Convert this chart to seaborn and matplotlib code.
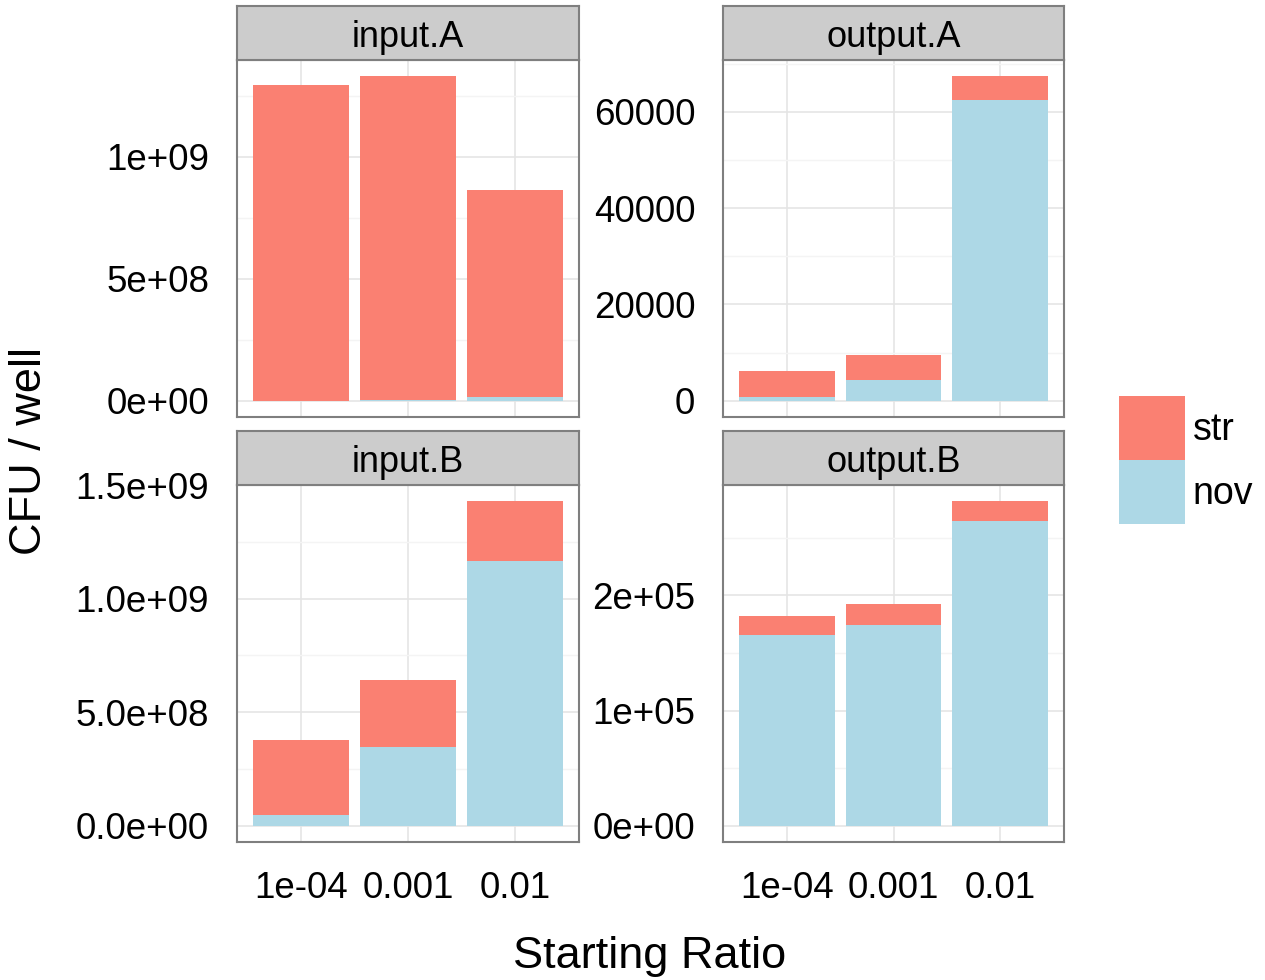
import numpy as np
import pandas as pd
import matplotlib
matplotlib.use("Agg")
import matplotlib.pyplot as plt
from matplotlib.patches import Patch
import seaborn as sns

# ---- data -------------------------------------------------------------
ratios = ["1e-04", "0.001", "0.01"]
panels = ["input.A", "output.A", "input.B", "output.B"]
strains = ["str", "nov"]

nov_input_A = [1.0e6, 2.0e6, 1.6e7]
str_input_A = [1.293e9, 1.327e9, 0.848e9]

nov_output_A = [830, 4280, 62420]
str_output_A = [5440, 5170, 4960]

nov_input_B = [4.8e7, 3.46e8, 1.164e9]
str_input_B = [3.30e8, 2.97e8, 2.64e8]

nov_output_B = [1.654e5, 1.746e5, 2.643e5]
str_output_B = [1.64e4, 1.82e4, 1.73e4]

yticks_input_A = [0, 5e8, 1e9]
ylabels_input_A = ["0e+00", "5e+08", "1e+09"]
yticks_output_A = [0, 20000, 40000, 60000]
ylabels_output_A = ["0", "20000", "40000", "60000"]
yticks_input_B = [0, 5e8, 1e9, 1.5e9]
ylabels_input_B = ["0.0e+00", "5.0e+08", "1.0e+09", "1.5e+09"]
yticks_output_B = [0, 1e5, 2e5]
ylabels_output_B = ["0e+00", "1e+05", "2e+05"]

x_title = "Starting Ratio"
y_title = "CFU / well"

# ---- long-form table ---------------------------------------------------
series = {
    "input.A": (nov_input_A, str_input_A, yticks_input_A, ylabels_input_A),
    "output.A": (nov_output_A, str_output_A, yticks_output_A, ylabels_output_A),
    "input.B": (nov_input_B, str_input_B, yticks_input_B, ylabels_input_B),
    "output.B": (nov_output_B, str_output_B, yticks_output_B, ylabels_output_B),
}
rows = []
for p in panels:
    nov, st = series[p][0], series[p][1]
    for r, n, s in zip(ratios, nov, st):
        rows.append({"panel": p, "ratio": r, "nov": n, "str": s, "total": n + s})
df = pd.DataFrame(rows)

# ---- style -------------------------------------------------------------
sns.set_style("white")
plt.rcParams["font.family"] = ["Liberation Sans", "DejaVu Sans"]
plt.rcParams["text.color"] = "black"
plt.rcParams["xtick.color"] = "black"
plt.rcParams["ytick.color"] = "black"

SALMON = "#FA8072"
LIGHTBLUE = "#ADD8E6"
BORDER = "#7F7F7F"
STRIP = "#CCCCCC"
GRID_MAJOR = "#E5E5E5"
GRID_MINOR = "#F4F4F4"
TICK_FS = 26.5
STRIP_FS = 26
TITLE_FS = 32.5
LEGEND_FS = 27

W, H = 1265, 980
fig = plt.figure(figsize=(W / 100, H / 100), dpi=100)

# panel boxes in pixels: left, top, right, bottom
boxes = {
    "input.A": (237, 60, 579, 417),
    "output.A": (723, 60, 1064, 417),
    "input.B": (237, 485, 579, 842),
    "output.B": (723, 485, 1064, 842),
}
STRIP_H = 54


def frac(l, t, r, b):
    return [l / W, 1 - b / H, (r - l) / W, (b - t) / H]


for p in panels:
    l, t, r, b = boxes[p]
    ax = fig.add_axes(frac(l, t, r, b))
    sub = df[df["panel"] == p]
    sns.barplot(data=sub, x="ratio", y="total", order=ratios, color=SALMON,
                saturation=1, width=0.9, errorbar=None, ax=ax, linewidth=0)
    sns.barplot(data=sub, x="ratio", y="nov", order=ratios, color=LIGHTBLUE,
                saturation=1, width=0.9, errorbar=None, ax=ax, linewidth=0)

    ymax = sub["total"].max()
    ax.set_ylim(-0.05 * ymax, 1.05 * ymax)
    ax.set_xlim(-0.6, len(ratios) - 0.4)

    ticks, labels = series[p][2], series[p][3]
    ax.set_yticks(ticks)
    ax.set_yticklabels(labels)
    step = ticks[1] - ticks[0]
    lo, hi = ax.get_ylim()
    minors = [v + step / 2 for v in ticks]
    minors += [ticks[0] - step / 2]
    minors = [m for m in minors if lo < m < hi]
    ax.set_yticks(minors, minor=True)

    ax.set_axisbelow(True)
    ax.grid(True, which="major", color=GRID_MAJOR, linewidth=1.2)
    ax.grid(True, which="minor", axis="y", color=GRID_MINOR, linewidth=1.0)
    ax.xaxis.grid(True, color=GRID_MAJOR, linewidth=1.2)

    ax.tick_params(axis="y", which="major", length=10, width=2.2, color="black",
                   labelsize=TICK_FS, pad=10, labelcolor="black")
    ax.tick_params(axis="both", which="minor", length=0)
    bottom_row = p.endswith(".B")
    if bottom_row:
        ax.tick_params(axis="x", which="major", length=11, width=2.2,
                       color="black", labelsize=TICK_FS, pad=10,
                       labelcolor="black")
    else:
        ax.tick_params(axis="x", which="major", length=0, labelbottom=False)
    ax.set_xlabel("")
    ax.set_ylabel("")
    for s in ax.spines.values():
        s.set_visible(True)
        s.set_color(BORDER)
        s.set_linewidth(1.5)

    # facet strip
    sax = fig.add_axes(frac(l, t - STRIP_H, r, t))
    sax.set_facecolor(STRIP)
    sax.set_xticks([])
    sax.set_yticks([])
    for s in sax.spines.values():
        s.set_visible(True)
        s.set_color(BORDER)
        s.set_linewidth(1.5)
    sax.text(0.5, 0.42, p, ha="center", va="center", fontsize=STRIP_FS,
             transform=sax.transAxes, color="black")

# shared axis titles
fig.text(650 / W, 1 - 956 / H, x_title, ha="center", va="center",
         fontsize=TITLE_FS, color="black")
fig.text(30 / W, 1 - 451 / H, y_title, ha="center", va="center", rotation=90,
         fontsize=TITLE_FS, color="black")

# legend
handles = [Patch(facecolor=SALMON, edgecolor="none"),
           Patch(facecolor=LIGHTBLUE, edgecolor="none")]
key_w = 66 / (LEGEND_FS * 100 / 72)
key_h = key_w * 1.27
leg = fig.legend(handles, strains, loc="center left",
                 bbox_to_anchor=(1119 / W, 1 - 460 / H), frameon=False,
                 fontsize=LEGEND_FS, handlelength=key_w, handleheight=key_h,
                 labelspacing=0, handletextpad=0.2, borderpad=0,
                 borderaxespad=0)
for txt in leg.get_texts():
    txt.set_color("black")

fig.savefig("out.png", dpi=100, facecolor="white")
